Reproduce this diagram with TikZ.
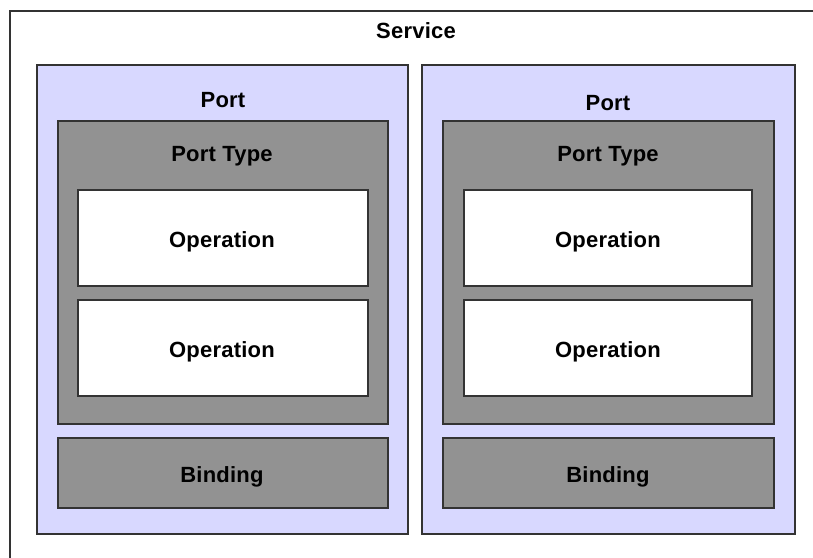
\documentclass[tikz,border=0pt]{standalone}
\usepackage{fontspec}
\setmainfont{Liberation Sans}[LetterSpace=1]
\begin{document}
\begin{tikzpicture}[x=1pt,y=-1pt,
  box/.style={draw=black!80, line width=1.3pt, anchor=north west, inner sep=0pt, outer sep=0pt},
  portbox/.style={box, fill=portfill},
  greybox/.style={box, fill=typefill},
  opbox/.style={box, fill=white},
  lbl/.style={font=\bfseries\fontsize{22}{26}\selectfont, text=black, anchor=base, inner sep=0pt}]
\definecolor{portfill}{HTML}{D8D8FF}
\definecolor{typefill}{HTML}{929292}
\useasboundingbox (0,0) rectangle (813,557);
\clip (0,0) rectangle (813,557);
% outer service frame, running past the right and bottom edges
\node[box, fill=white, minimum width=830pt, minimum height=580pt] (service) at (10,11) {};
\node[lbl] (servicelbl) at (416,38) {Service};
% left port
\node[portbox, minimum width=371pt, minimum height=469pt] (portL) at (37,65) {};
\node[lbl] (portLlbl) at (223,107) {Port};
\node[greybox, minimum width=330pt, minimum height=303pt] (typeL) at (58,121) {};
\node[lbl] (typeLlbl) at (222,161) {Port Type};
\node[opbox, minimum width=290pt, minimum height=96pt] (op1L) at (78,190) {};
\node[lbl] (op1Llbl) at (222,247) {Operation};
\node[opbox, minimum width=290pt, minimum height=96pt] (op2L) at (78,300) {};
\node[lbl] (op2Llbl) at (222,357) {Operation};
\node[greybox, minimum width=330pt, minimum height=70pt] (bindL) at (58,438) {};
\node[lbl] (bindLlbl) at (222,482) {Binding};
% right port
\node[portbox, minimum width=373pt, minimum height=469pt] (portR) at (422,65) {};
\node[lbl] (portRlbl) at (608,110) {Port};
\node[greybox, minimum width=331pt, minimum height=303pt] (typeR) at (443,121) {};
\node[lbl] (typeRlbl) at (608,161) {Port Type};
\node[opbox, minimum width=288pt, minimum height=96pt] (op1R) at (464,190) {};
\node[lbl] (op1Rlbl) at (608,247) {Operation};
\node[opbox, minimum width=288pt, minimum height=96pt] (op2R) at (464,300) {};
\node[lbl] (op2Rlbl) at (608,357) {Operation};
\node[greybox, minimum width=331pt, minimum height=70pt] (bindR) at (443,438) {};
\node[lbl] (bindRlbl) at (608,482) {Binding};
\end{tikzpicture}
\end{document}
